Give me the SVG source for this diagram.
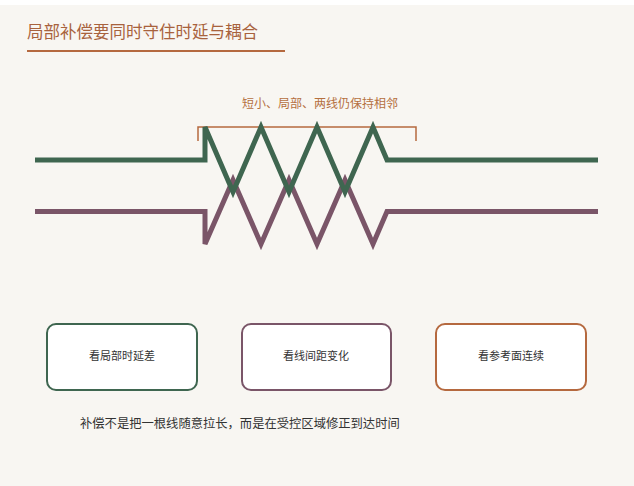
<svg xmlns="http://www.w3.org/2000/svg" width="634" height="486" viewBox="0 0 634 486">
<style>
.t{font-family:"Noto Sans CJK SC","Noto Sans",sans-serif}
.box{fill:#ffffff;stroke-width:2}
.bt{font-size:11px;fill:#333333;text-anchor:middle}
.tr{fill:none;stroke-width:5;stroke-linejoin:miter;stroke-linecap:butt}
</style>
<rect x="0" y="0" width="634" height="486" fill="#ffffff"/>
<rect x="0" y="5" width="634" height="481" fill="#f8f6f2"/>
<g id="title">
<text class="t" x="27" y="38" font-size="16.5" fill="#a8623d">局部补偿要同时守住时延与耦合</text>
<line x1="27" y1="51" x2="285" y2="51" stroke="#b5693f" stroke-width="2"/>
</g>
<g id="bracket">
<text class="t" x="320" y="108" font-size="12" fill="#b5703f" text-anchor="middle">短小、局部、两线仍保持相邻</text>
<path d="M198,141 V127 H416 V141" fill="none" stroke="#b5693f" stroke-width="1.5"/>
</g>
<g id="connectors">
<path class="tr" stroke="#7a5568" d="M35,211.5 H205 V244 L233,180 L261,244 L289,180 L317,244 L345,180 L373,244 L387,211.5 H598"/>
<path class="tr" stroke="#3f6650" d="M35,160 H205 V127 L233,192 L261,127 L289,192 L317,127 L345,192 L373,127 L387,160 H598"/>
</g>
<g id="node1">
<rect class="box" x="47" y="324" width="150" height="66" rx="9" stroke="#3f6650"/>
<text class="t bt" x="122" y="360">看局部时延差</text>
</g>
<g id="node2">
<rect class="box" x="242" y="324" width="149" height="66" rx="9" stroke="#7a5568"/>
<text class="t bt" x="316" y="360">看线间距变化</text>
</g>
<g id="node3">
<rect class="box" x="436" y="324" width="150" height="66" rx="9" stroke="#b5693f"/>
<text class="t bt" x="511" y="360">看参考面连续</text>
</g>
<g id="note">
<text class="t" x="80" y="428" font-size="12.3" fill="#333333">补偿不是把一根线随意拉长，而是在受控区域修正到达时间</text>
</g>
</svg>
